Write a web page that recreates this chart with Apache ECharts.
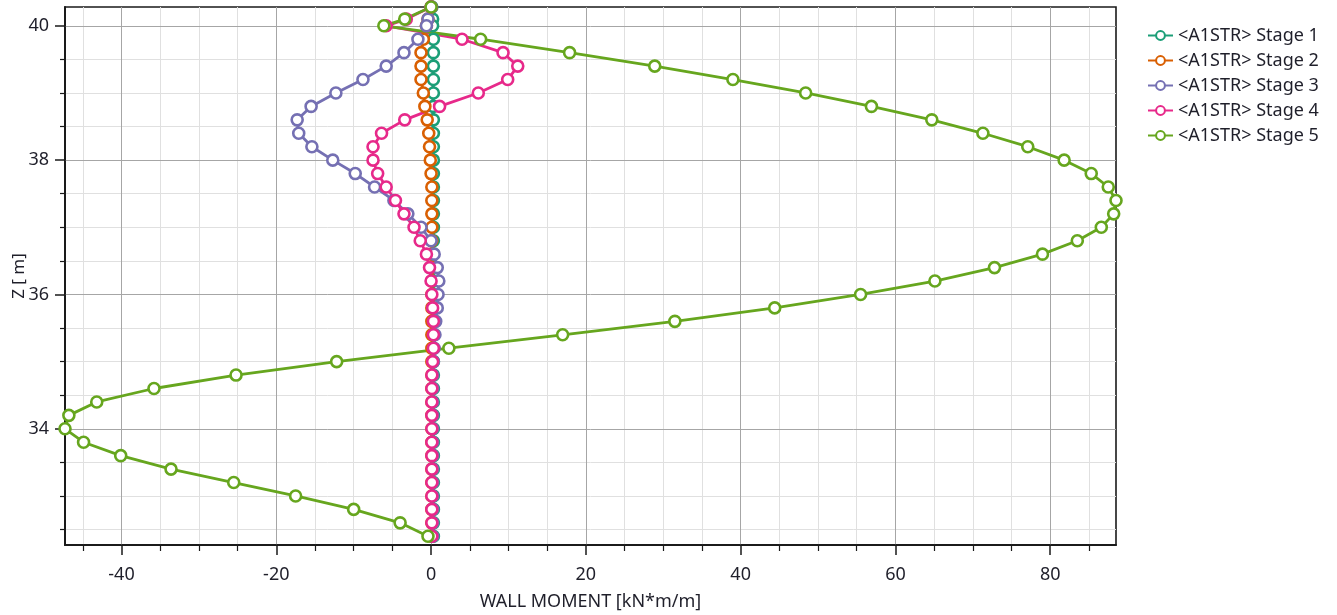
<!DOCTYPE html>
<html>
<head>
<meta charset="utf-8">
<script src="https://cdn.jsdelivr.net/npm/echarts@6/dist/echarts.min.js"></script>
<style>
html,body{margin:0;padding:0;background:#fff;}
#chart{width:1337px;height:615px;}
</style>
</head>
<body>
<div id="chart"></div>
<script>
// Depth nodes (Z, m)
const depths = [40.28, 40.1, 40.0, 39.8, 39.6, 39.4, 39.2, 39.0, 38.8, 38.6, 38.4, 38.2, 38.0, 37.8, 37.6, 37.4, 37.2, 37.0, 36.8, 36.6, 36.4, 36.2, 36.0, 35.8, 35.6, 35.4, 35.2, 35.0, 34.8, 34.6, 34.4, 34.2, 34.0, 33.8, 33.6, 33.4, 33.2, 33.0, 32.8, 32.6, 32.4];

// Wall moment per stage (kN*m/m), one value per depth node
const stage1 = [0.1, 0.2, 0.2, 0.3, 0.3, 0.3, 0.3, 0.3, 0.3, 0.3, 0.3, 0.3, 0.3, 0.3, 0.3, 0.3, 0.3, 0.3, 0.3, 0.3, 0.3, 0.3, 0.3, 0.3, 0.3, 0.3, 0.3, 0.3, 0.3, 0.3, 0.3, 0.3, 0.3, 0.3, 0.3, 0.3, 0.3, 0.3, 0.3, 0.3, 0.3];
const stage2 = [0.0, -0.4, -0.6, -1.0, -1.3, -1.3, -1.3, -1.0, -0.8, -0.5, -0.3, -0.2, -0.1, 0.0, 0.1, 0.1, 0.1, 0.1, 0.1, 0.1, 0.1, 0.1, 0.1, 0.1, 0.1, 0.1, 0.1, 0.1, 0.1, 0.1, 0.1, 0.1, 0.1, 0.1, 0.1, 0.1, 0.1, 0.1, 0.1, 0.1, 0.1];
const stage3 = [0.0, -0.4, -0.6, -1.7, -3.5, -5.8, -8.8, -12.3, -15.5, -17.3, -17.1, -15.4, -12.7, -9.8, -7.3, -4.8, -3.0, -1.3, 0.0, 0.4, 0.8, 1.0, 0.9, 0.8, 0.6, 0.5, 0.4, 0.3, 0.2, 0.2, 0.2, 0.2, 0.2, 0.2, 0.2, 0.2, 0.2, 0.2, 0.2, 0.2, 0.2];
const stage4 = [0.0, -3.2, -5.8, 4.0, 9.3, 11.2, 9.9, 6.1, 1.1, -3.4, -6.4, -7.5, -7.5, -6.9, -5.8, -4.6, -3.5, -2.2, -1.4, -0.6, -0.2, 0.0, 0.1, 0.2, 0.3, 0.3, 0.3, 0.2, 0.1, 0.1, 0.1, 0.1, 0.1, 0.1, 0.1, 0.1, 0.1, 0.1, 0.1, 0.1, 0.1];
const stage5 = [0.0, -3.4, -6.1, 6.4, 17.9, 28.9, 39.0, 48.4, 56.9, 64.7, 71.3, 77.1, 81.8, 85.3, 87.5, 88.5, 88.2, 86.6, 83.5, 79.0, 72.8, 65.1, 55.5, 44.4, 31.5, 17.0, 2.3, -12.2, -25.2, -35.8, -43.2, -46.8, -47.3, -44.9, -40.1, -33.6, -25.5, -17.5, -10.0, -4.0, -0.4];

const stageNames = ['<A1STR> Stage 1', '<A1STR> Stage 2', '<A1STR> Stage 3', '<A1STR> Stage 4', '<A1STR> Stage 5'];
const stageValues = [stage1, stage2, stage3, stage4, stage5];
const stageColors = ['#1b9e77', '#d95f02', '#7570b3', '#e7298a', '#66a61e'];

// Axis ticks
const xMajorTicks = [-40, -20, 0, 20, 40, 60, 80];
const xMinorTicks = [-45, -35, -30, -25, -15, -10, -5, 5, 10, 15, 25, 30, 35, 45, 50, 55, 65, 70, 75, 85];
const yMajorTicks = [34, 36, 38, 40];
const yMinorTicks = [32.5, 33, 33.5, 34.5, 35, 35.5, 36.5, 37, 37.5, 38.5, 39, 39.5];
const XMIN = -47.3, XMAX = 88.5, YMIN = 32.27, YMAX = 40.28;

const FONT = 'Noto Sans';
const TXT = '#1f1f2a';
const chart = echarts.init(document.getElementById('chart'), null, {renderer: 'canvas'});

const baseX = {type: 'value', min: XMIN, max: XMAX, position: 'bottom'};
const baseY = {type: 'value', min: YMIN, max: YMAX, position: 'left'};

const series = stageValues.map((vals, i) => ({
  name: stageNames[i],
  type: 'line',
  xAxisIndex: 0,
  yAxisIndex: 0,
  data: vals.map((v, k) => [v, depths[k]]),
  symbol: 'circle',
  symbolSize: 11,
  showAllSymbol: true,
  clip: false,
  color: stageColors[i],
  lineStyle: {color: stageColors[i], width: 2.8},
  itemStyle: {color: '#ffffff', borderColor: stageColors[i], borderWidth: 2.6},
  emphasis: {disabled: true}
}));

chart.setOption({
  animation: false,
  textStyle: {fontFamily: FONT},
  grid: {left: 65, right: 221, top: 7, bottom: 70, containLabel: false, outerBoundsMode: 'none',
         show: true, borderColor: '#1a1a1a', borderWidth: 1.6, backgroundColor: 'transparent'},
  legend: {
    orient: 'vertical', left: 1142, top: 21,
    itemWidth: 25, itemHeight: 11, itemGap: 6,
    textStyle: {fontFamily: FONT, fontSize: 18, color: TXT, lineHeight: 19},
    data: stageNames
  },
  xAxis: [
    Object.assign({}, baseX, {
      name: 'WALL MOMENT [kN*m/m]', nameLocation: 'middle', nameGap: 48, nameMoveOverlap: false,
      nameTextStyle: {fontFamily: FONT, fontSize: 18, color: TXT},
      axisLine: {show: true, onZero: false, lineStyle: {color: '#1a1a1a', width: 1.6}},
      axisTick: {show: true, inside: false, length: 10, customValues: xMajorTicks, lineStyle: {color: '#1a1a1a', width: 1.5}},
      axisLabel: {show: true, customValues: xMajorTicks, margin: 21, fontFamily: FONT, fontSize: 18, color: TXT},
      splitLine: {show: true, lineStyle: {color: '#a6a6a6', width: 1}},
      z: 2
    }),
    Object.assign({}, baseX, {
      axisLine: {show: true, onZero: false, lineStyle: {color: '#1a1a1a', width: 1.6}},
      axisTick: {show: true, inside: false, length: 6, customValues: xMinorTicks, lineStyle: {color: '#1a1a1a', width: 1.2}},
      axisLabel: {show: false},
      splitLine: {show: true, lineStyle: {color: '#e0e0e0', width: 1}},
      z: 1
    })
  ],
  yAxis: [
    Object.assign({}, baseY, {
      name: 'Z [ m]', nameLocation: 'middle', nameGap: 37, nameRotate: 90, nameMoveOverlap: false,
      nameTextStyle: {fontFamily: FONT, fontSize: 17, color: TXT},
      axisLine: {show: true, onZero: false, lineStyle: {color: '#1a1a1a', width: 1.6}},
      axisTick: {show: true, inside: false, length: 10, customValues: yMajorTicks, lineStyle: {color: '#1a1a1a', width: 1.5}},
      axisLabel: {show: true, customValues: yMajorTicks, margin: 16, fontFamily: FONT, fontSize: 18, color: TXT},
      splitLine: {show: true, lineStyle: {color: '#a6a6a6', width: 1}},
      z: 2
    }),
    Object.assign({}, baseY, {
      axisLine: {show: true, onZero: false, lineStyle: {color: '#1a1a1a', width: 1.6}},
      axisTick: {show: true, inside: false, length: 5, customValues: yMinorTicks, lineStyle: {color: '#1a1a1a', width: 1.2}},
      axisLabel: {show: false},
      splitLine: {show: true, lineStyle: {color: '#e0e0e0', width: 1}},
      z: 1
    })
  ],
  series: series
});
</script>
</body>
</html>
